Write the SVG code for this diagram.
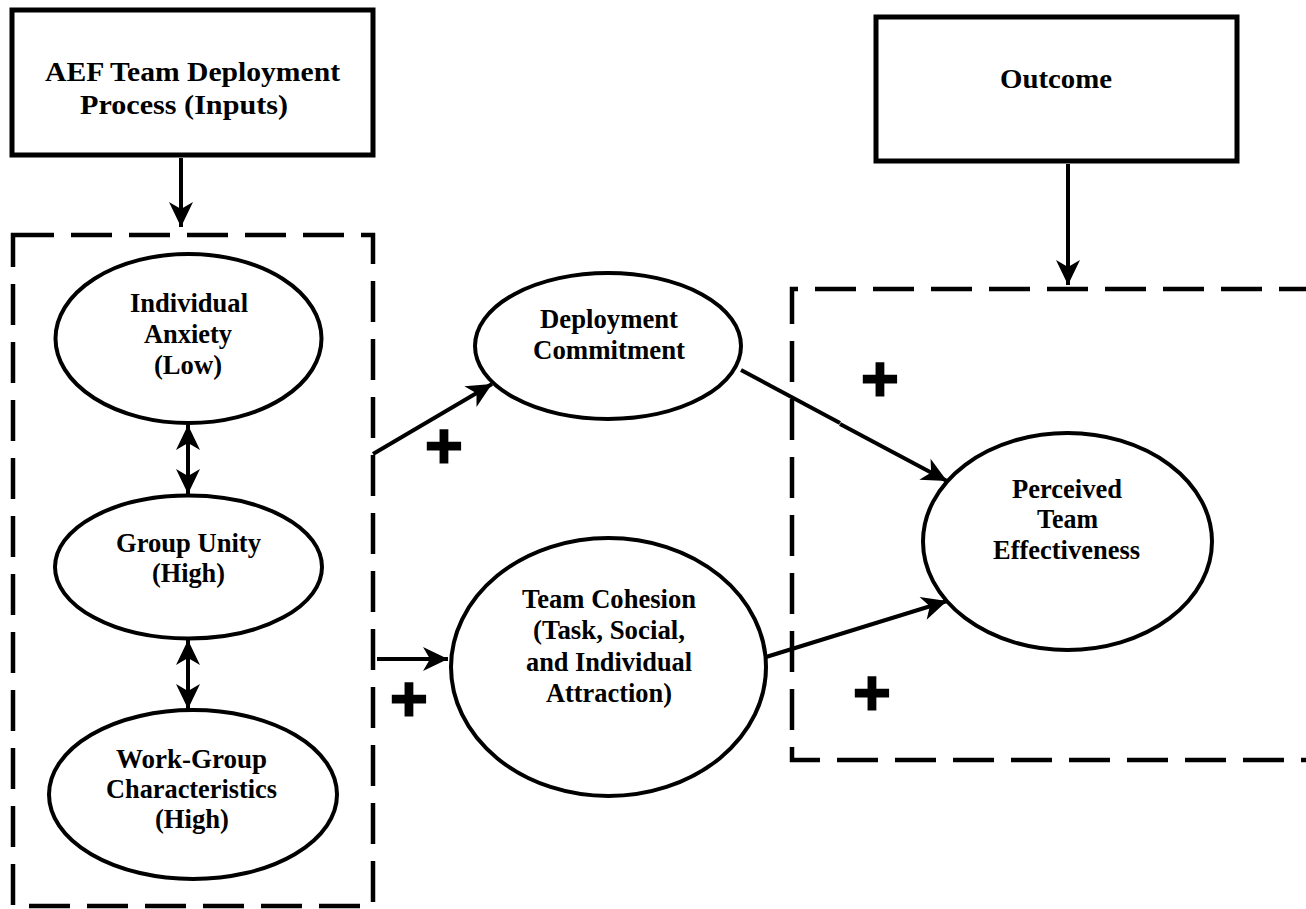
<svg xmlns="http://www.w3.org/2000/svg" width="1306" height="909" viewBox="0 0 1306 909">
  <style>
    .box { fill: #fff; stroke: #000; stroke-width: 5; }
    .node { fill: #fff; stroke: #000; stroke-width: 4; }
    .frame { fill: none; stroke: #000; stroke-width: 4.5; stroke-dasharray: 41 17; }
    .edge { fill: none; stroke: #000; stroke-width: 4; }
    text.lbl { font-family: 'Liberation Serif', serif; font-weight: 700; font-size: 27px; fill: #000; text-anchor: middle; }
    text.plus { font-family: 'DejaVu Sans', sans-serif; font-weight: 700; font-size: 50px; fill: #000; stroke: #000; stroke-width: 3; text-anchor: middle; dominant-baseline: central; }
  </style>
  <defs>
    <marker id="head" viewBox="-26 -13 28 26" refX="0" refY="0" markerWidth="28" markerHeight="26" markerUnits="userSpaceOnUse" orient="auto-start-reverse">
      <path d="M0,0 L-25,-12 L-18,0 L-25,12 Z" fill="#000"/>
    </marker>
  </defs>

  <rect width="1306" height="909" fill="#fff"/>

  <!-- grouping frames -->
  <g id="frames">
    <rect class="frame" x="13" y="235" width="360" height="671"/>
    <path class="frame" d="M1320,289 H792 V760 H1320"/>
  </g>

  <!-- connectors -->
  <g id="connectors">
    <line class="edge" x1="181" y1="158" x2="181" y2="227" marker-end="url(#head)"/>
    <line class="edge" x1="1068" y1="164" x2="1068" y2="285" marker-end="url(#head)"/>
    <line class="edge" x1="188" y1="425" x2="188" y2="494" marker-start="url(#head)" marker-end="url(#head)"/>
    <line class="edge" x1="188" y1="640" x2="188" y2="709" marker-start="url(#head)" marker-end="url(#head)"/>
    <line class="edge" x1="373" y1="454" x2="492" y2="384" marker-end="url(#head)"/>
    <line class="edge" x1="377" y1="659" x2="448" y2="659" marker-end="url(#head)"/>
    <line class="edge" x1="741" y1="370" x2="840" y2="423"/>
    <line class="edge" x1="840" y1="424" x2="947" y2="481" marker-end="url(#head)"/>
    <line class="edge" x1="766" y1="657" x2="947" y2="601" marker-end="url(#head)"/>
  </g>

  <!-- sign labels -->
  <g id="signs">
    <text class="plus" x="444" y="445">+</text>
    <text class="plus" x="409" y="698">+</text>
    <text class="plus" x="880" y="378">+</text>
    <text class="plus" x="872" y="692">+</text>
  </g>

  <g id="inputs">
    <rect class="box" x="12" y="10" width="361" height="145"/>
    <text class="lbl" x="192.5" y="81" textLength="295" lengthAdjust="spacingAndGlyphs">AEF Team Deployment</text>
    <text class="lbl" x="184" y="114" textLength="208" lengthAdjust="spacingAndGlyphs">Process (Inputs)</text>
  </g>

  <g id="outcome">
    <rect class="box" x="876" y="17" width="361" height="144"/>
    <text class="lbl" x="1056" y="88" textLength="112" lengthAdjust="spacingAndGlyphs">Outcome</text>
  </g>

  <g id="individual-anxiety">
    <ellipse class="node" cx="188.5" cy="338.5" rx="133" ry="84.5"/>
    <text class="lbl" x="189" y="312" textLength="118" lengthAdjust="spacingAndGlyphs">Individual</text>
    <text class="lbl" x="188" y="343" textLength="88" lengthAdjust="spacingAndGlyphs">Anxiety</text>
    <text class="lbl" x="188" y="374" textLength="68" lengthAdjust="spacingAndGlyphs">(Low)</text>
  </g>

  <g id="group-unity">
    <ellipse class="node" cx="188.5" cy="567" rx="133.5" ry="71.5"/>
    <text class="lbl" x="188.5" y="552" textLength="145" lengthAdjust="spacingAndGlyphs">Group Unity</text>
    <text class="lbl" x="188.5" y="582" textLength="73" lengthAdjust="spacingAndGlyphs">(High)</text>
  </g>

  <g id="work-group">
    <ellipse class="node" cx="193" cy="794.5" rx="144" ry="84.5"/>
    <text class="lbl" x="191.5" y="768" textLength="151" lengthAdjust="spacingAndGlyphs">Work-Group</text>
    <text class="lbl" x="191.5" y="798" textLength="171" lengthAdjust="spacingAndGlyphs">Characteristics</text>
    <text class="lbl" x="192" y="828" textLength="74" lengthAdjust="spacingAndGlyphs">(High)</text>
  </g>

  <g id="deployment-commitment">
    <ellipse class="node" cx="608" cy="346" rx="133" ry="73"/>
    <text class="lbl" x="609" y="328" textLength="138" lengthAdjust="spacingAndGlyphs">Deployment</text>
    <text class="lbl" x="609" y="359" textLength="152" lengthAdjust="spacingAndGlyphs">Commitment</text>
  </g>

  <g id="team-cohesion">
    <ellipse class="node" cx="608.5" cy="667" rx="157.5" ry="129"/>
    <text class="lbl" x="609" y="608" textLength="174" lengthAdjust="spacingAndGlyphs">Team Cohesion</text>
    <text class="lbl" x="609" y="639" textLength="152" lengthAdjust="spacingAndGlyphs">(Task, Social,</text>
    <text class="lbl" x="609" y="671" textLength="166" lengthAdjust="spacingAndGlyphs">and Individual</text>
    <text class="lbl" x="609" y="702" textLength="126" lengthAdjust="spacingAndGlyphs">Attraction)</text>
  </g>

  <g id="perceived-effectiveness">
    <ellipse class="node" cx="1067.5" cy="541.5" rx="144.5" ry="108.5"/>
    <text class="lbl" x="1067" y="498" textLength="110" lengthAdjust="spacingAndGlyphs">Perceived</text>
    <text class="lbl" x="1067.5" y="528" textLength="61" lengthAdjust="spacingAndGlyphs">Team</text>
    <text class="lbl" x="1066.5" y="559" textLength="147" lengthAdjust="spacingAndGlyphs">Effectiveness</text>
  </g>
</svg>
